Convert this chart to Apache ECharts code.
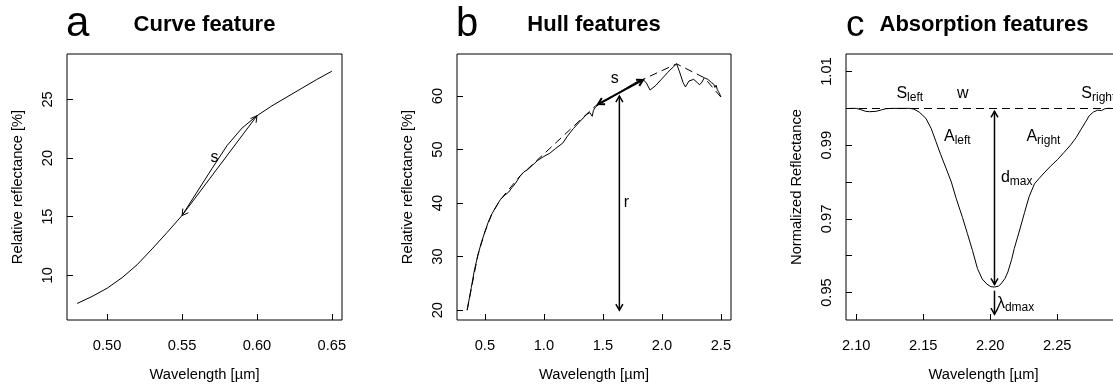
<!DOCTYPE html>
<html>
<head>
<meta charset="utf-8">
<script src="https://cdn.jsdelivr.net/npm/echarts@6/dist/echarts.min.js"></script>
<style>
  html, body { margin: 0; padding: 0; background: #fff; overflow: hidden; }
  /* the third panel runs past the right edge of the page */
  #chart { width: 1130px; height: 387px; }
</style>
</head>
<body>
<div id="chart"></div>
<script>
// ---------- Panel a: curve feature ----------
const curveWavelength = [0.48, 0.49, 0.50, 0.51, 0.52, 0.53, 0.54, 0.55, 0.56, 0.57, 0.58, 0.59, 0.60, 0.61, 0.62, 0.63, 0.64, 0.65];
const curveReflectance = [7.6, 8.2, 8.9, 9.8, 10.9, 12.25, 13.65, 15.1, 17.1, 19.1, 21.05, 22.55, 23.6, 24.45, 25.2, 25.95, 26.7, 27.4];
const curveXTicks = [0.50, 0.55, 0.60, 0.65];
const curveYTicks = [10, 15, 20, 25];
// slope chord: x1, y1, x2, y2, head code (1 = end, 3 = both ends)
const curveSlopeArrow = [0.55, 15.1, 0.60, 23.6, 3];
const curveLabelPos = [[0.569, 20.0]];
const curveLabelText = [{ main: 's' }];

// ---------- Panel b: hull features ----------
const hullSpecWavelength = [0.35, 0.385, 0.41, 0.44, 0.47, 0.50, 0.53, 0.56, 0.60, 0.63, 0.67, 0.70, 0.73, 0.76, 0.80, 0.83, 0.86, 0.90, 0.95, 1.00, 1.05, 1.10, 1.16, 1.20, 1.25, 1.30, 1.36, 1.39, 1.41, 1.42, 1.44, 1.48, 1.55, 1.62, 1.70, 1.76, 1.80, 1.84, 1.87, 1.90, 1.95, 2.00, 2.05, 2.10, 2.125, 2.15, 2.18, 2.20, 2.23, 2.27, 2.30, 2.32, 2.34, 2.36, 2.39, 2.42, 2.44, 2.45, 2.46, 2.47, 2.48, 2.49, 2.50];
const hullSpecReflectance = [20.0, 24.2, 27.3, 30.2, 32.6, 34.6, 36.5, 38.0, 39.5, 40.6, 41.5, 42.0, 42.9, 43.7, 45.1, 45.8, 46.2, 47.0, 48.0, 48.7, 49.3, 50.2, 51.2, 52.5, 53.9, 55.1, 56.5, 56.9, 56.2, 57.3, 58.0, 58.6, 59.4, 60.4, 61.5, 62.3, 62.8, 63.1, 62.4, 61.1, 62.0, 63.2, 64.4, 65.5, 66.0, 64.5, 62.5, 61.7, 62.8, 63.1, 62.5, 62.1, 62.6, 63.4, 63.1, 62.5, 62.2, 61.6, 62.0, 61.2, 60.8, 60.4, 59.8];
const hullWavelength = [0.35, 0.44, 0.50, 0.56, 0.63, 0.80, 0.86, 1.44, 1.84, 2.125, 2.36, 2.50];
const hullReflectance = [20.0, 30.2, 34.6, 38.0, 40.6, 45.1, 46.3, 58.2, 63.1, 66.0, 63.4, 59.8];
const hullXTicks = [0.5, 1.0, 1.5, 2.0, 2.5];
const hullYTicks = [20, 30, 40, 50, 60];
const hullSlopeArrow = [1.46, 58.5, 1.84, 63.0, 3];
const hullRangeArrow = [1.64, 20.0, 1.64, 60.0, 3];
const hullLabelPos = [[1.566, 63.24], [1.677, 40.1]];
const hullLabelText = [{ main: 's' }, { main: 'r' }];

// ---------- Panel c: absorption features ----------
const absWavelength = [2.095, 2.100, 2.103, 2.107, 2.110, 2.115, 2.119, 2.122, 2.127, 2.140, 2.143, 2.147, 2.152, 2.156, 2.1595, 2.163, 2.167, 2.171, 2.1744, 2.1793, 2.183, 2.1868, 2.1905, 2.194, 2.1975, 2.2005, 2.2030, 2.206, 2.2082, 2.211, 2.2132, 2.216, 2.218, 2.222, 2.2256, 2.229, 2.233, 2.2365, 2.2403, 2.245, 2.2502, 2.255, 2.2601, 2.264, 2.2676, 2.271, 2.2739, 2.277, 2.280, 2.283, 2.2855, 2.2876, 2.290];
const absReflectance = [1.0000, 1.0000, 0.9997, 0.9992, 0.9991, 0.9992, 0.9996, 0.9999, 1.0000, 1.0000, 0.9998, 0.9990, 0.9973, 0.9945, 0.9910, 0.9875, 0.9838, 0.9800, 0.9758, 0.9704, 0.9660, 0.9614, 0.9565, 0.9537, 0.9523, 0.9516, 0.9515, 0.9517, 0.9524, 0.9538, 0.9556, 0.9590, 0.9620, 0.9670, 0.9717, 0.9760, 0.9795, 0.9810, 0.9825, 0.9843, 0.9861, 0.9880, 0.9901, 0.9920, 0.9942, 0.9962, 0.9980, 0.9990, 0.9995, 0.9994, 0.9999, 1.0000, 1.0000];
const absContinuum = 1.0;
const absXTicks = [2.10, 2.15, 2.20, 2.25];
const absYTicks = [0.95, 0.96, 0.97, 0.98, 0.99, 1.00, 1.01];
const absYTickLabels = [0.95, 0.97, 0.99, 1.01];
const absDepthArrow = [2.2032, 0.9992, 2.2032, 0.9522, 3];
const absPositionArrow = [2.2032, 0.9505, 2.2032, 0.9441, 1];
const absLabelPos = [[2.1300, 1.00412], [2.1796, 1.00412], [2.2680, 1.00412], [2.1655, 0.99236], [2.2270, 0.99236], [2.2080, 0.98116], [2.2050, 0.94704]];
const absLabelText = [
  { main: 'S', sub: 'left' },
  { main: 'w', align: 'center' },
  { main: 'S', sub: 'right' },
  { main: 'A', sub: 'left' },
  { main: 'A', sub: 'right' },
  { main: 'd', sub: 'max' },
  { main: 'λ', sub: 'dmax' }
];

// ---------- shared styling ----------
const FONT = '"Liberation Sans", Arial, Helvetica, sans-serif';
const INK = '#000';
const measureCtx = document.createElement('canvas').getContext('2d');
function textWidth(str, size) {
  measureCtx.font = size + 'px ' + FONT;
  return measureCtx.measureText(str).width;
}
function zip(xs, ys) { return xs.map((x, i) => [x, ys[i]]); }

const gridBox = { show: true, borderColor: INK, borderWidth: 1, backgroundColor: 'transparent', containLabel: false };
const grids = [
  Object.assign({ left: 67, top: 54, width: 275, height: 268 }, gridBox),
  Object.assign({ left: 457, top: 54, width: 274, height: 268 }, gridBox),
  Object.assign({ left: 846, top: 54, width: 275, height: 268 }, gridBox)
];

function xAxis(gridIndex, min, max, ticks, digits) {
  return {
    type: 'value', gridIndex, min, max, name: 'Wavelength [µm]',
    nameLocation: 'middle', nameGap: 47,
    nameTextStyle: { color: INK, fontFamily: FONT, fontSize: 14.7 },
    axisLine: { show: false },
    axisTick: { show: true, inside: true, length: 6, customValues: ticks, lineStyle: { color: INK, width: 1 } },
    axisLabel: { customValues: ticks, margin: 18, color: INK, fontFamily: FONT, fontSize: 14.7,
                 formatter: v => Number(v).toFixed(digits) },
    splitLine: { show: false }
  };
}
function yAxis(gridIndex, min, max, ticks, labels, digits, title) {
  return {
    type: 'value', gridIndex, min, max, name: title,
    nameLocation: 'middle', nameGap: 42, nameRotate: 90,
    nameTextStyle: { color: INK, fontFamily: FONT, fontSize: 14.7 },
    axisLine: { show: false },
    axisTick: { show: true, inside: true, length: 6, customValues: ticks, lineStyle: { color: INK, width: 1 } },
    axisLabel: { customValues: labels, rotate: 90, margin: 12, color: INK, fontFamily: FONT, fontSize: 14.7,
                 formatter: v => Number(v).toFixed(digits) },
    splitLine: { show: false }
  };
}

function lineSeries(idx, data, dashed) {
  return {
    type: 'line', xAxisIndex: idx, yAxisIndex: idx, data,
    symbol: 'none', showSymbol: false, silent: true, animation: false,
    lineStyle: { color: INK, width: 1, type: dashed ? [8, 5] : 'solid' },
    z: dashed ? 3 : 4
  };
}

// double/single headed arrow with open heads, drawn through the axis scales
function arrowSeries(idx, arrow, width) {
  const headLen = 7, headAng = Math.PI / 6;
  return {
    type: 'custom', xAxisIndex: idx, yAxisIndex: idx, silent: true, animation: false, z: 6,
    data: [arrow], encode: { x: [0, 2], y: [1, 3] },
    renderItem(params, api) {
      const p1 = api.coord([api.value(0), api.value(1)]);
      const p2 = api.coord([api.value(2), api.value(3)]);
      const code = api.value(4);
      const style = { stroke: INK, lineWidth: width, fill: null };
      const head = (tip, from) => {
        const a = Math.atan2(tip[1] - from[1], tip[0] - from[0]);
        return {
          type: 'polyline',
          shape: { points: [
            [tip[0] - headLen * Math.cos(a - headAng), tip[1] - headLen * Math.sin(a - headAng)],
            tip,
            [tip[0] - headLen * Math.cos(a + headAng), tip[1] - headLen * Math.sin(a + headAng)]
          ] },
          style
        };
      };
      const children = [{ type: 'line', shape: { x1: p1[0], y1: p1[1], x2: p2[0], y2: p2[1] }, style }];
      children.push(head(p2, p1));
      if (code === 3) children.push(head(p1, p2));
      return { type: 'group', children };
    }
  };
}

// text annotations with optional subscript
function labelSeries(idx, positions, texts) {
  const mainSize = 16, subSize = 12;
  return {
    type: 'custom', xAxisIndex: idx, yAxisIndex: idx, silent: true, animation: false, z: 7,
    data: positions, encode: { x: 0, y: 1 },
    renderItem(params, api) {
      const t = texts[params.dataIndex];
      const p = api.coord([api.value(0), api.value(1)]);
      const mw = textWidth(t.main, mainSize);
      const sw = t.sub ? textWidth(t.sub, subSize) : 0;
      const left = t.align === 'center' ? p[0] - (mw + sw) / 2 : p[0];
      const children = [{
        type: 'text', x: left, y: p[1],
        style: { text: t.main, fontSize: mainSize, fontFamily: FONT, fill: INK, align: 'left', verticalAlign: 'middle' }
      }];
      if (t.sub) {
        children.push({
          type: 'text', x: left + mw, y: p[1] + 4,
          style: { text: t.sub, fontSize: subSize, fontFamily: FONT, fill: INK, align: 'left', verticalAlign: 'middle' }
        });
      }
      return { type: 'group', children };
    }
  };
}

function headerText(x, y, text, size, weight, align) {
  return { type: 'text', x, y, silent: true,
    style: { text, fontSize: size, fontWeight: weight, fontFamily: FONT, fill: INK, align, verticalAlign: 'middle' } };
}

const chart = echarts.init(document.getElementById('chart'), null, { renderer: 'canvas' });
chart.setOption({
  animation: false,
  backgroundColor: '#fff',
  grid: grids,
  xAxis: [
    xAxis(0, 0.4732, 0.6568, curveXTicks, 2),
    xAxis(1, 0.264, 2.586, hullXTicks, 1),
    xAxis(2, 2.0924, 2.2976, absXTicks, 2)
  ],
  yAxis: [
    yAxis(0, 6.19, 28.87, curveYTicks, curveYTicks, 0, 'Relative reflectance [%]'),
    yAxis(1, 18.16, 67.84, hullYTicks, hullYTicks, 0, 'Relative reflectance [%]'),
    yAxis(2, 0.94255, 1.01476, absYTicks, absYTickLabels, 2, 'Normalized Reflectance')
  ],
  graphic: [
    headerText(66, 24.5, 'a', 42, 'normal', 'left'),
    headerText(204.5, 25.2, 'Curve feature', 22, 'bold', 'center'),
    headerText(456, 25.1, 'b', 40, 'normal', 'left'),
    headerText(594, 25.2, 'Hull features', 22, 'bold', 'center'),
    headerText(846, 26, 'c', 37, 'normal', 'left'),
    headerText(984, 25.2, 'Absorption features', 22, 'bold', 'center')
  ],
  series: [
    lineSeries(0, zip(curveWavelength, curveReflectance)),
    arrowSeries(0, curveSlopeArrow, 1),
    labelSeries(0, curveLabelPos, curveLabelText),

    lineSeries(1, zip(hullWavelength, hullReflectance), true),
    lineSeries(1, zip(hullSpecWavelength, hullSpecReflectance)),
    arrowSeries(1, hullSlopeArrow, 2),
    arrowSeries(1, hullRangeArrow, 1.5),
    labelSeries(1, hullLabelPos, hullLabelText),

    Object.assign(lineSeries(2, zip(absWavelength, absReflectance)), {
      markLine: {
        silent: true, symbol: 'none', animation: false, label: { show: false },
        lineStyle: { color: INK, width: 1, type: [8, 5] },
        data: [{ yAxis: absContinuum }]
      }
    }),
    arrowSeries(2, absDepthArrow, 1.5),
    arrowSeries(2, absPositionArrow, 1.5),
    labelSeries(2, absLabelPos, absLabelText)
  ]
});
</script>
</body>
</html>
